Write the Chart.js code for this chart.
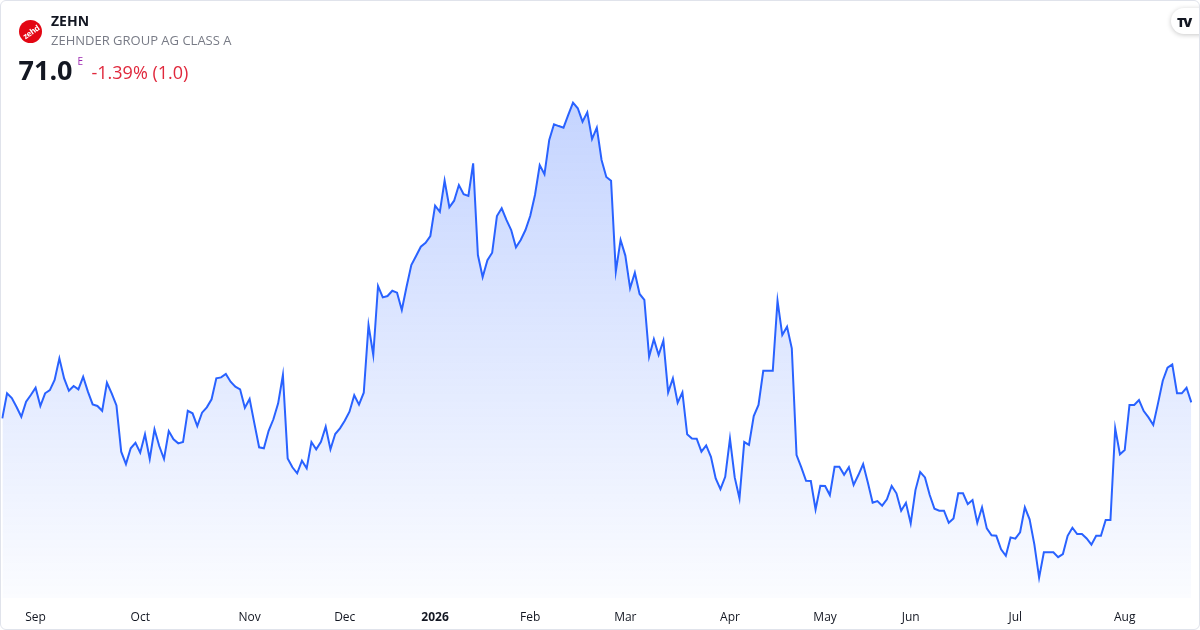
<!DOCTYPE html>
<html>
<head>
<meta charset="utf-8">
<script src="https://cdn.jsdelivr.net/npm/chart.js@4.4.1/dist/chart.umd.min.js"></script>
<style>
  html, body { margin: 0; padding: 0; background: #fff; }
  #wrap { position: relative; width: 1200px; height: 630px; overflow: hidden; font-family: "Open Sans", sans-serif; }
  #frame { position: absolute; left: 0; top: 0; right: 0; bottom: 0; border: 1px solid #e0e3eb; border-radius: 6px; pointer-events: none; }
  #chart { position: absolute; left: 0; top: 0; }
  .t { position: absolute; white-space: nowrap; }
  #logo { position: absolute; left: 19px; top: 20px; width: 23px; height: 23px; border-radius: 50%; background: #e30613; }
  #logo span { position: absolute; left: 3px; top: 6px; color: #fff; font: bold 8px "Open Sans", sans-serif; transform: rotate(-35deg); letter-spacing: -0.3px; }
  #sym { left: 51px; top: 13.6px; font-size: 14px; line-height: 14px; font-weight: bold; color: #131722; }
  #name { left: 51px; top: 33.7px; font-size: 13px; line-height: 13px; color: #787b86; }
  #last { left: 18.5px; top: 56.3px; font-size: 27px; line-height: 27px; font-weight: bold; color: #131722; }
  #flag { left: 77.5px; top: 56.3px; font-size: 10px; line-height: 10px; color: #9c27b0; }
  #chg { left: 91.5px; top: 62.9px; font-size: 18px; line-height: 18px; color: #e0283c; }
  #tv { position: absolute; left: 1171px; top: 8px; width: 44px; height: 26px; border-radius: 13px; background: #fff; box-shadow: 0 1px 5px rgba(0,0,0,0.22); }
  #tv span { position: absolute; left: 6px; top: 5px; font: 900 13px "Open Sans", sans-serif; letter-spacing: -1.5px; color: #131722; }
</style>
</head>
<body>
<div id="wrap">
  <canvas id="chart" width="1200" height="630"></canvas>
  <div id="logo"><span>zehd</span></div>
  <div class="t" id="sym">ZEHN</div>
  <div class="t" id="name">ZEHNDER GROUP AG CLASS A</div>
  <div class="t" id="last">71.0</div>
  <div class="t" id="flag">E</div>
  <div class="t" id="chg">-1.39% (1.0)</div>
  <div id="tv"><span>TV</span></div>
  <div id="frame"></div>
</div>
<script>
// daily closes, Aug 2025 -> Aug 2026 (CHF)
const closes = [
  69.90, 71.62, 71.29, 70.68, 70.01, 71.04, 71.50, 72.00, 70.75, 71.62,
  71.84, 72.53, 74.01, 72.64, 71.79, 72.12, 71.89, 72.75, 71.73, 70.86,
  70.75, 70.42, 72.34, 71.62, 70.79, 67.62, 66.77, 67.85, 68.23, 67.55,
  68.81, 67.12, 69.15, 68.01, 67.12, 69.03, 68.47, 68.19, 68.28, 70.42,
  70.25, 69.38, 70.29, 70.66, 71.21, 72.64, 72.71, 72.94, 72.41, 72.07,
  71.89, 70.63, 71.23, 69.56, 67.92, 67.85, 69.05, 69.84, 70.93, 72.87,
  67.16, 66.55, 66.14, 67.00, 66.48, 68.28, 67.78, 68.30, 69.33, 67.78,
  68.83, 69.22, 69.74, 70.36, 71.48, 70.84, 71.66, 76.29, 74.24, 78.97,
  78.19, 78.28, 78.64, 78.51, 77.32, 78.92, 80.40, 81.02, 81.66, 81.93,
  82.39, 84.47, 84.05, 86.18, 84.36, 84.81, 85.88, 85.25, 85.13, 87.37,
  81.09, 79.58, 80.73, 81.25, 83.76, 84.29, 83.49, 82.80, 81.62, 82.12,
  82.80, 83.76, 85.20, 87.25, 86.62, 88.97, 90.04, 89.92, 89.81, 90.68,
  91.52, 91.14, 90.22, 90.86, 89.03, 89.81, 87.60, 86.43, 86.18, 79.96,
  82.12, 81.05, 78.81, 79.88, 78.42, 78.01, 74.12, 75.32, 74.24, 75.22,
  71.68, 72.64, 70.97, 71.68, 68.81, 68.53, 68.51, 67.62, 68.05, 67.27,
  65.79, 65.06, 65.90, 68.51, 65.86, 64.42, 68.28, 68.08, 70.06, 70.82,
  73.16, 73.16, 73.16, 77.96, 75.61, 76.18, 74.70, 67.39, 66.55, 65.63,
  65.61, 63.67, 65.29, 65.27, 64.65, 66.59, 66.59, 66.04, 66.55, 65.34,
  66.02, 66.77, 65.49, 64.12, 64.24, 63.92, 64.36, 65.27, 64.77, 63.58,
  64.12, 62.71, 64.99, 66.23, 65.86, 64.65, 63.71, 63.58, 63.58, 62.75,
  63.05, 64.77, 64.77, 64.03, 64.31, 62.75, 63.81, 62.37, 61.89, 61.86,
  60.93, 60.49, 61.75, 61.66, 62.10, 63.81, 62.99, 61.27, 58.99, 60.73,
  60.73, 60.73, 60.40, 60.61, 61.86, 62.41, 61.98, 61.98, 61.68, 61.25,
  61.86, 61.86, 62.94, 62.94, 69.22, 67.44, 67.73, 70.82, 70.82, 71.16,
  70.40, 69.97, 69.45, 70.93, 72.48, 73.37, 73.60, 71.62, 71.62, 72.00,
  71.00
];

// month labels and the trading-day index where each one sits
const monthNames = ['Sep', 'Oct', 'Nov', 'Dec', '2026', 'Feb', 'Mar', 'Apr', 'May', 'Jun', 'Jul', 'Aug'];
const monthIdx   = [7, 29, 52, 72, 91, 111, 131, 153, 173, 191, 213, 236];

const labels = closes.map(() => '');
monthIdx.forEach((i, k) => { labels[i] = monthNames[k]; });

const ctx = document.getElementById('chart');

const areaFill = (c) => {
  const a = c.chart.chartArea;
  if (!a) return 'rgba(41,98,255,0.15)';
  const g = c.chart.ctx.createLinearGradient(0, a.top, 0, a.bottom);
  g.addColorStop(0, 'rgba(41,98,255,0.28)');
  g.addColorStop(1, 'rgba(41,98,255,0.02)');
  return g;
};

// where the plot should land on the page
const plotBox = { left: 2.3, right: 1191.3, top: 90, bottom: 598 };
let pad = { top: 90, bottom: 6, left: 2, right: 8 };

const chart = new Chart(ctx, {
  type: 'line',
  data: {
    labels: labels,
    datasets: [{
      data: closes,
      borderColor: '#2962ff',
      borderWidth: 2,
      pointRadius: 0,
      pointHoverRadius: 0,
      tension: 0,
      fill: 'start',
      backgroundColor: areaFill
    }]
  },
  options: {
    responsive: false,
    animation: false,
    layout: { autoPadding: false, padding: pad },
    plugins: { legend: { display: false }, tooltip: { enabled: false } },
    scales: {
      x: {
        grid: { display: false, drawTicks: false },
        border: { display: false },
        afterFit: (s) => { s.paddingLeft = 0; s.paddingRight = 0; },
        ticks: {
          autoSkip: false,
          maxRotation: 0,
          minRotation: 0,
          padding: 12,
          color: '#131722',
          font: (c) => ({
            family: 'Open Sans',
            size: 12,
            weight: (c.tick && c.tick.label === '2026') ? 'bold' : 'normal'
          })
        }
      },
      y: { display: false, min: 57.6, max: 92.39 }
    }
  }
});

// nudge the padding so first/last day and the plot bottom sit where the reference has them
for (let pass = 0; pass < 3; pass++) {
  const a = chart.chartArea;
  const xs = chart.scales.x;
  const x0 = xs.getPixelForValue(0);
  const xN = xs.getPixelForValue(closes.length - 1);
  pad = {
    left: Math.max(0, pad.left + plotBox.left - x0),
    top: pad.top + plotBox.top - a.top,
    right: Math.max(0, pad.right + xN - plotBox.right),
    bottom: pad.bottom + a.bottom - plotBox.bottom
  };
  chart.options.layout.padding = pad;
  chart.update();
}
</script>
</body>
</html>
